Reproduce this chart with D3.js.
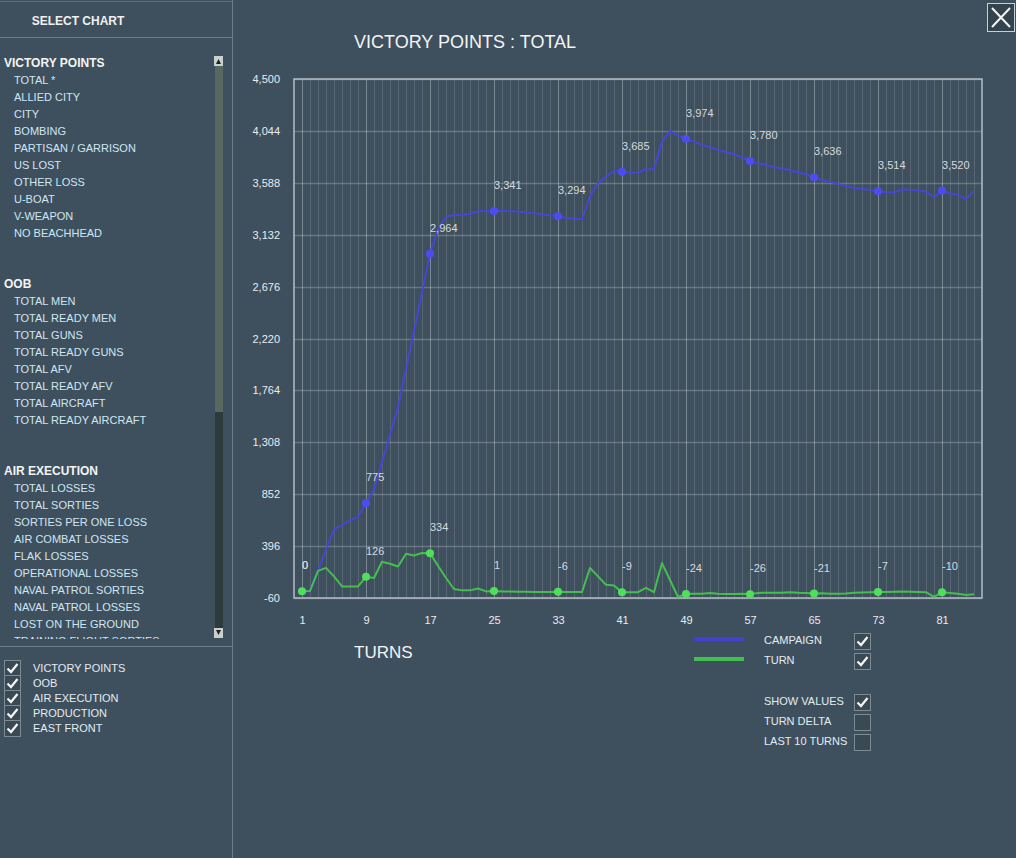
<!DOCTYPE html>
<html>
<head>
<meta charset="utf-8">
<script src="https://cdn.jsdelivr.net/npm/d3@7"></script>
<style>
  body { margin: 0; background: #3e505e; }
  svg { display: block; font-family: "Liberation Sans", Arial, sans-serif; }
</style>
</head>
<body>
<svg width="1016" height="858"></svg>
<script>
// campaign (cumulative) and turn values, turns 1..85
var campaign = [0, 0, 180, 364, 540, 584, 621, 651, 775, 891,
  1135, 1375, 1615, 1947, 2285, 2621, 2964, 3180, 3290, 3305,
  3308, 3314, 3338, 3340, 3341, 3340, 3338, 3335, 3328, 3320,
  3312, 3303, 3294, 3280, 3272, 3268, 3467, 3584, 3642, 3692,
  3685, 3677, 3677, 3707, 3707, 3950, 4043, 4000, 3974, 3952,
  3921, 3900, 3877, 3856, 3839, 3809, 3780, 3759, 3745, 3727,
  3710, 3701, 3681, 3663, 3636, 3613, 3596, 3578, 3560, 3543,
  3534, 3526, 3514, 3505, 3502, 3531, 3526, 3520, 3510, 3461,
  3520, 3496, 3481, 3444, 3519];
var turn = [0, 2, 178, 205, 130, 42, 40, 42, 126, 116,
  259, 241, 217, 329, 314, 335, 334, 224, 116, 19,
  7, 7, 24, -2, 1, -2, -3, -4, -5, -7,
  -8, -7, -6, -8, -7, -7, 203, 130, 57, 50,
  -9, -9, -9, 28, -9, 247, 98, -51, -24, -22,
  -22, -16, -22, -24, -24, -22, -26, -16, -13, -14,
  -14, -9, -14, -17, -21, -18, -23, -23, -20, -14,
  -11, -9, -7, -8, -6, -3, -6, -8, -9, -51,
  -10, -16, -22, -33, -28];
var yTicks = [-60, 396, 852, 1308, 1764, 2220, 2676, 3132, 3588, 4044, 4500];
var xTicks = [1, 9, 17, 25, 33, 41, 49, 57, 65, 73, 81];

var vpItems = ["TOTAL *", "ALLIED CITY", "CITY", "BOMBING", "PARTISAN / GARRISON",
  "US LOST", "OTHER LOSS", "U-BOAT", "V-WEAPON", "NO BEACHHEAD"];
var oobItems = ["TOTAL MEN", "TOTAL READY MEN", "TOTAL GUNS", "TOTAL READY GUNS",
  "TOTAL AFV", "TOTAL READY AFV", "TOTAL AIRCRAFT", "TOTAL READY AIRCRAFT"];
var airItems = ["TOTAL LOSSES", "TOTAL SORTIES", "SORTIES PER ONE LOSS", "AIR COMBAT LOSSES",
  "FLAK LOSSES", "OPERATIONAL LOSSES", "NAVAL PATROL SORTIES", "NAVAL PATROL LOSSES",
  "LOST ON THE GROUND", "TRAINING FLIGHT SORTIES"];
var groupChecks = ["VICTORY POINTS", "OOB", "AIR EXECUTION", "PRODUCTION", "EAST FRONT"];

var BLUE = "#4646dc", GREEN = "#44c44e";

var svg = d3.select("svg");

var x = d3.scaleLinear().domain([0, 86]).range([294, 982]);
var y = d3.scaleLinear().domain([-60, 4500]).range([598, 79]);

// game uses plain hyphen for negatives
var fmt = function(v) { return d3.format(",")(v).replace("\u2212", "-"); };

// ---------- left panel ----------
var panel = svg.append("g");
panel.append("line").attr("x1", 232.5).attr("x2", 232.5).attr("y1", 0).attr("y2", 858)
  .attr("stroke", "#6c7c88");
panel.append("line").attr("x1", 0).attr("x2", 232).attr("y1", 1.5).attr("y2", 1.5)
  .attr("stroke", "#5c6c78");
panel.append("line").attr("x1", 0).attr("x2", 232).attr("y1", 37.5).attr("y2", 37.5)
  .attr("stroke", "#6c7c88");
panel.append("line").attr("x1", 0).attr("x2", 232).attr("y1", 646.5).attr("y2", 646.5)
  .attr("stroke", "#6c7c88");

panel.append("text").attr("x", 78).attr("y", 25).attr("text-anchor", "middle")
  .attr("fill", "#f0f0f0").attr("font-size", 12).attr("font-weight", "bold")
  .text("SELECT CHART");

var clip = svg.append("defs").append("clipPath").attr("id", "listclip");
clip.append("rect").attr("x", 0).attr("y", 50).attr("width", 212).attr("height", 589);
var listG = panel.append("g").attr("clip-path", "url(#listclip)");

function section(title, items, top) {
  listG.append("text").attr("x", 4).attr("y", top + 4)
    .attr("fill", "#f4f4f4").attr("font-size", 12).attr("font-weight", "bold")
    .text(title);
  listG.selectAll(null).data(items).enter().append("text")
    .attr("x", 14).attr("y", function(d, i) { return top + 21 + i * 17; })
    .attr("fill", "#cfe6f2").attr("font-size", 11)
    .text(function(d) { return d; });
}
section("VICTORY POINTS", vpItems, 63);
section("OOB", oobItems, 284);
section("AIR EXECUTION", airItems, 471);

// scrollbar
panel.append("rect").attr("x", 215).attr("y", 66).attr("width", 8).attr("height", 562)
  .attr("fill", "#2c3a3c");
panel.append("rect").attr("x", 215).attr("y", 66).attr("width", 8).attr("height", 346)
  .attr("fill", "#56685f");
panel.append("rect").attr("x", 214).attr("y", 56).attr("width", 9).attr("height", 10)
  .attr("fill", "#c9d0d0");
panel.append("path").attr("d", "M216,64 L218.5,59 L221,64 Z").attr("fill", "#202020");
panel.append("rect").attr("x", 214).attr("y", 628).attr("width", 9).attr("height", 10)
  .attr("fill", "#c9d0d0");
panel.append("path").attr("d", "M216,630 L218.5,635 L221,630 Z").attr("fill", "#202020");

function checkbox(g, cx, cy, checked) {
  g.append("rect").attr("x", cx + 0.5).attr("y", cy + 0.5).attr("width", 16).attr("height", 16)
    .attr("fill", "#3a4a54").attr("stroke", "#7d8c94");
  if (checked) {
    g.append("path").attr("d", "M" + (cx + 3.5) + "," + (cy + 8.5) + " L" + (cx + 7) + "," + (cy + 12) +
      " L" + (cx + 13.5) + "," + (cy + 4))
      .attr("fill", "none").attr("stroke", "#f4f4f4").attr("stroke-width", 2.2);
  }
}
groupChecks.forEach(function(d, i) {
  checkbox(panel, 4, 660 + i * 15, true);
  panel.append("text").attr("x", 33).attr("y", 672 + i * 15)
    .attr("fill", "#e4ecf0").attr("font-size", 11).text(d);
});

// close button
svg.append("rect").attr("x", 987.5).attr("y", 3.5).attr("width", 27).attr("height", 28)
  .attr("fill", "#34444e").attr("stroke", "#c8d0d6");
svg.append("path").attr("d", "M992,8 L1010,27 M1010,8 L992,27")
  .attr("stroke", "#f4f4f4").attr("stroke-width", 2);

// ---------- chart ----------
svg.append("text").attr("x", 354).attr("y", 48).attr("fill", "#f4f4f4")
  .attr("font-size", 18).text("VICTORY POINTS : TOTAL");
svg.append("text").attr("x", 354).attr("y", 658).attr("fill", "#f4f4f4")
  .attr("font-size", 17).text("TURNS");

var grid = svg.append("g");
grid.selectAll(null).data(d3.range(1, 86)).enter().append("line")
  .attr("x1", function(d) { return x(d) + 0.5; }).attr("x2", function(d) { return x(d) + 0.5; })
  .attr("y1", 79).attr("y2", 598)
  .attr("stroke", "#ffffff")
  .attr("stroke-opacity", function(d) { return (d - 1) % 8 === 0 ? 0.32 : 0.13; });
grid.selectAll(null).data(yTicks).enter().append("line")
  .attr("x1", 294).attr("x2", 982)
  .attr("y1", function(d) { return Math.round(y(d)) + 0.5; })
  .attr("y2", function(d) { return Math.round(y(d)) + 0.5; })
  .attr("stroke", "#ffffff").attr("stroke-opacity", 0.22).attr("stroke-width", 1.5);

svg.append("rect").attr("x", 294).attr("y", 79).attr("width", 688).attr("height", 519)
  .attr("fill", "none").attr("stroke", "#b4bcc4").attr("stroke-width", 1.5);

var yAxis = svg.append("g").attr("transform", "translate(280,0)")
  .call(d3.axisLeft(y).tickValues(yTicks).tickSize(0).tickPadding(0).tickFormat(fmt));
yAxis.select(".domain").remove();
yAxis.selectAll("text").attr("fill", "#e8ecee").attr("font-size", 11)
  .attr("font-family", "Liberation Sans, Arial, sans-serif");

var xAxis = svg.append("g").attr("transform", "translate(0,616)")
  .call(d3.axisBottom(x).tickValues(xTicks).tickSize(0).tickPadding(0));
xAxis.select(".domain").remove();
xAxis.selectAll("text").attr("fill", "#e8ecee").attr("font-size", 11)
  .attr("font-family", "Liberation Sans, Arial, sans-serif");

var line = d3.line()
  .x(function(d, i) { return x(i + 1); })
  .y(function(d) { return y(d); });

function drawSeries(values, color, markColor) {
  var g = svg.append("g");
  g.append("path").datum(values).attr("d", line)
    .attr("fill", "none").attr("stroke", color).attr("stroke-width", 2)
    .attr("stroke-linejoin", "round").attr("stroke-opacity", 0.95);
  var marks = xTicks.map(function(t) { return { t: t, v: values[t - 1] }; });
  g.selectAll("circle").data(marks).enter().append("circle")
    .attr("cx", function(d) { return x(d.t); }).attr("cy", function(d) { return y(d.v); })
    .attr("r", 4).attr("fill", markColor);
  g.selectAll("text").data(marks).enter().append("text")
    .attr("x", function(d) { return x(d.t); }).attr("y", function(d) { return y(d.v) - 22; })
    .attr("fill", "#d4dade").attr("font-size", 11)
    .text(function(d) { return fmt(d.v); });
}
drawSeries(campaign, BLUE, "#4c4cf4");
drawSeries(turn, GREEN, "#4ee05a");

// ---------- legend ----------
var leg = svg.append("g");
leg.append("line").attr("x1", 694).attr("x2", 744).attr("y1", 639).attr("y2", 639)
  .attr("stroke", "#4242d0").attr("stroke-width", 4);
leg.append("line").attr("x1", 694).attr("x2", 744).attr("y1", 659).attr("y2", 659)
  .attr("stroke", "#42c04e").attr("stroke-width", 4);
var legRows = [["CAMPAIGN", 640, true], ["TURN", 660, true],
  ["SHOW VALUES", 701, true], ["TURN DELTA", 721, false], ["LAST 10 TURNS", 741, false]];
legRows.forEach(function(r) {
  leg.append("text").attr("x", 764).attr("y", r[1] + 4).attr("fill", "#e4ecf0")
    .attr("font-size", 11).text(r[0]);
  checkbox(leg, 854, r[1] - 7, r[2]);
});
</script>
</body>
</html>
